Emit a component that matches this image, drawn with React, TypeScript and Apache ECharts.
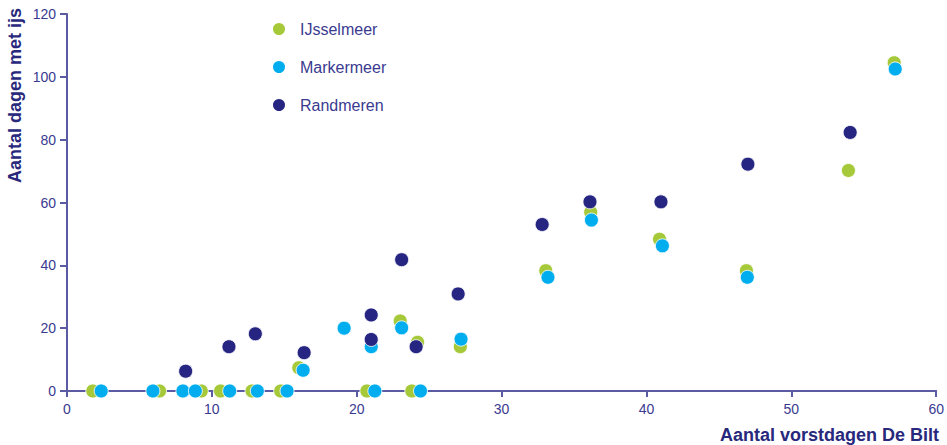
import React, { useEffect, useRef } from "react";
import * as echarts from "echarts";

const seriesNames = ["IJsselmeer", "Markermeer", "Randmeren"];
const colors = ["#a6c93a", "#00aeef", "#262682"];

const ijsselX = [1.78, 6.39, 9.27, 10.6, 12.77, 14.75, 16.0, 20.7, 23.0, 23.8, 24.2, 27.15, 33.05, 36.15, 40.9, 46.9, 53.94, 57.1];
const ijsselY = [0, 0, 0, 0, 0, 0, 7.4, 0, 22.3, 0, 15.5, 14.1, 38.3, 56.9, 48.3, 38.3, 70.2, 104.5];

const markerX = [2.36, 5.93, 8.0, 8.86, 11.23, 13.14, 15.19, 16.3, 19.13, 21.0, 21.25, 23.1, 24.4, 27.2, 33.2, 36.2, 41.1, 46.96, 57.17];
const markerY = [0, 0, 0, 0, 0, 0, 0, 6.6, 20.0, 14.1, 0, 20.1, 0, 16.5, 36.2, 54.4, 46.2, 36.2, 102.5];

const randX = [8.19, 11.18, 13.0, 16.37, 21.0, 21.0, 23.1, 24.1, 27.0, 32.8, 36.1, 41.0, 47.0, 54.06];
const randY = [6.3, 14.1, 18.2, 12.2, 24.2, 16.4, 41.8, 14.1, 30.9, 53.0, 60.2, 60.2, 72.2, 82.3];

const xTitle = "Aantal vorstdagen De Bilt";
const yTitle = "Aantal dagen met ijs";

const FONT = "'Liberation Sans', Arial, sans-serif";
const axisColor = "#5b5ba3";
const labelColor = "#3a3a90";
const titleColor = "#28287c";

const zip = (xs: number[], ys: number[]) => xs.map((x, i) => [x, ys[i]]);

export default function App() {
  const ref = useRef<HTMLDivElement>(null);
  useEffect(() => {
    document.body.style.margin = "0";
    if (!ref.current) return;
    const chart = echarts.init(ref.current, undefined, { renderer: "svg" });
    const data = [zip(ijsselX, ijsselY), zip(markerX, markerY), zip(randX, randY)];
    chart.setOption({
      animation: false,
      grid: { left: 67, right: 10, top: 14, bottom: 54, containLabel: false },
      legend: {
        orient: "vertical",
        left: 266,
        top: 16,
        itemGap: 22,
        itemWidth: 14,
        itemHeight: 14,
        icon: "circle",
        data: seriesNames,
        textStyle: { color: labelColor, fontFamily: FONT, fontSize: 16, padding: [0, 0, 0, 9] },
      },
      xAxis: {
        type: "value",
        min: 0,
        max: 60,
        interval: 10,
        splitLine: { show: false },
        axisLine: { onZero: false, lineStyle: { color: axisColor, width: 2 } },
        axisTick: { show: true, length: 6, lineStyle: { color: axisColor, width: 2 } },
        axisLabel: { color: labelColor, fontFamily: FONT, fontSize: 14, margin: 11 },
      },
      yAxis: {
        type: "value",
        min: 0,
        max: 120,
        interval: 20,
        splitLine: { show: false },
        axisLine: { show: true, lineStyle: { color: axisColor, width: 2 } },
        axisTick: { show: true, length: 7, lineStyle: { color: axisColor, width: 2 } },
        axisLabel: { color: labelColor, fontFamily: FONT, fontSize: 14, margin: 11 },
      },
      graphic: [
        {
          type: "text",
          x: 939,
          y: 444,
          style: {
            text: xTitle,
            fill: titleColor,
            font: `bold 18px ${FONT}`,
            align: "right",
            verticalAlign: "bottom",
          },
        },
        {
          type: "text",
          x: 15,
          y: 8,
          rotation: Math.PI / 2,
          style: {
            text: yTitle,
            fill: titleColor,
            font: `bold 18px ${FONT}`,
            align: "right",
            verticalAlign: "middle",
          },
        },
      ],
      series: seriesNames.map((name, i) => ({
        name,
        type: "scatter",
        data: data[i],
        symbol: "circle",
        symbolSize: 14,
        itemStyle: { color: colors[i], opacity: 1, borderColor: "#ffffff", borderWidth: 0.8 },
        z: 2 + i,
      })),
    });
    return () => chart.dispose();
  }, []);
  return <div ref={ref} style={{ width: 947, height: 445 }} />;
}
